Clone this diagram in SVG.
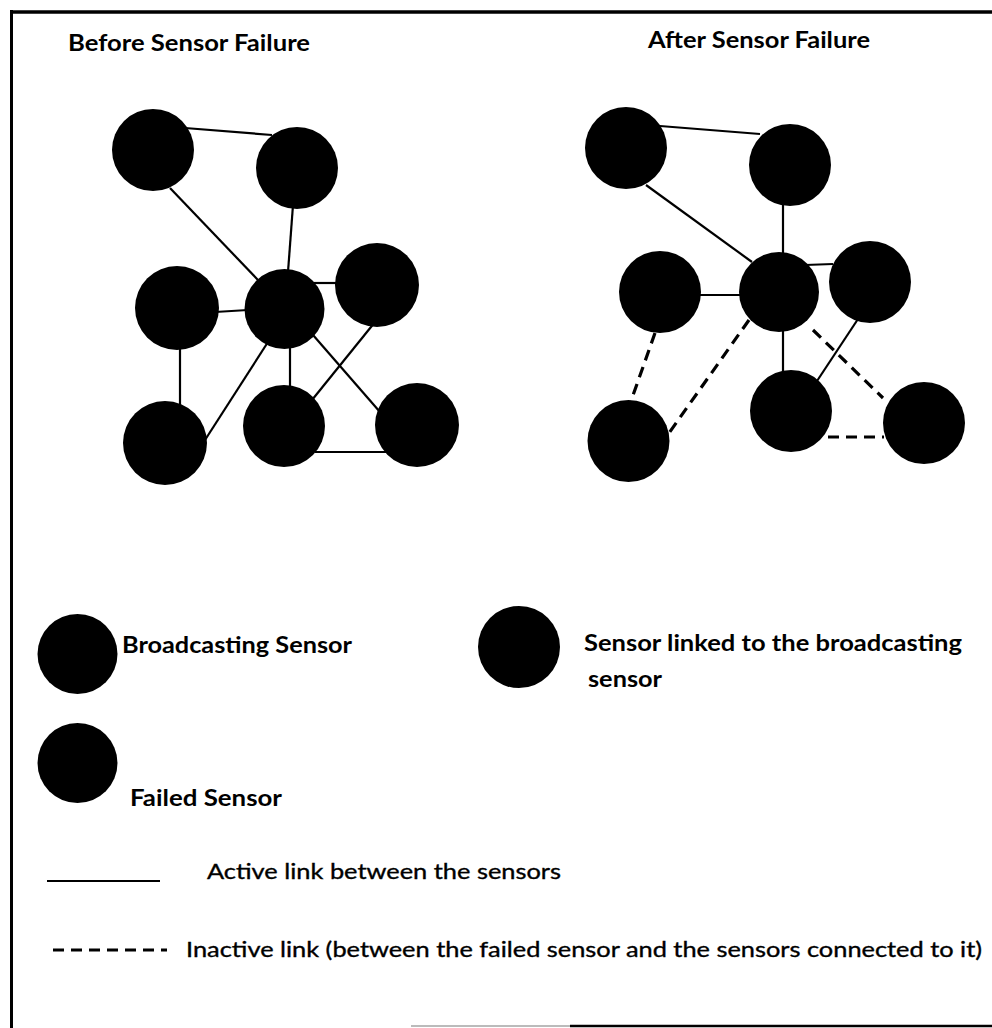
<svg xmlns="http://www.w3.org/2000/svg" width="992" height="1028" viewBox="0 0 992 1028">
  <style>
    .node { fill: #000; }
    .link { stroke: #000; stroke-width: 2.2; fill: none; stroke-linecap: butt; }
    .dash { stroke: #000; stroke-width: 3.2; fill: none; stroke-dasharray: 11 7; }
    .title { font-family: "Lato", "Liberation Sans", sans-serif; font-weight: bold; font-size: 22px; fill: #000; }
    .lbl { font-family: "Lato", "Liberation Sans", sans-serif; font-weight: bold; font-size: 22px; fill: #000; }
    .desc { font-family: "Lato", "Liberation Sans", sans-serif; font-weight: normal; font-size: 21px; fill: #000; stroke: #000; stroke-width: 0.35; }
    .frame { stroke: #000; fill: none; }
  </style>
  <rect x="0" y="0" width="992" height="1028" fill="#fff"/>

  <!-- frame -->
  <g id="frame">
    <line class="frame" x1="10" y1="12" x2="992" y2="12" stroke-width="3.5"/>
    <line class="frame" x1="11.5" y1="10" x2="11.5" y2="1028" stroke-width="3"/>
    <line x1="411" y1="1026" x2="570" y2="1026" stroke="#bbb" stroke-width="2"/>
    <line class="frame" x1="570" y1="1026" x2="992" y2="1026" stroke-width="2.5"/>
  </g>

  <!-- titles -->
  <text id="title-before" class="title" x="68" y="51" textLength="242" lengthAdjust="spacingAndGlyphs">Before Sensor Failure</text>
  <text id="title-after" class="title" x="648" y="48" textLength="222" lengthAdjust="spacingAndGlyphs">After Sensor Failure</text>

  <!-- connectors -->
  <g id="connectors">
    <!-- before -->
    <line class="link" x1="185" y1="128" x2="272" y2="135"/>
    <line class="link" x1="170" y1="188" x2="258" y2="280"/>
    <line class="link" x1="293" y1="205" x2="288" y2="272"/>
    <line class="link" x1="215" y1="312" x2="248" y2="310"/>
    <line class="link" x1="312" y1="283" x2="340" y2="283"/>
    <line class="link" x1="180" y1="345" x2="180" y2="405"/>
    <line class="link" x1="268" y1="342" x2="205" y2="440"/>
    <line class="link" x1="290" y1="345" x2="290" y2="390"/>
    <line class="link" x1="313" y1="335" x2="380" y2="412"/>
    <line class="link" x1="375" y1="322" x2="312" y2="400"/>
    <line class="link" x1="315" y1="452" x2="390" y2="452"/>
    <!-- after -->
    <line class="link" x1="660" y1="126" x2="760" y2="134"/>
    <line class="link" x1="646" y1="185" x2="752" y2="262"/>
    <line class="link" x1="783" y1="203" x2="783" y2="255"/>
    <line class="link" x1="698" y1="295" x2="742" y2="295"/>
    <line class="link" x1="805" y1="265" x2="833" y2="264"/>
    <line class="link" x1="783" y1="328" x2="783" y2="373"/>
    <line class="link" x1="858" y1="319" x2="817" y2="381"/>
    <line class="dash" x1="655" y1="333" x2="631" y2="401"/>
    <line class="dash" x1="749" y1="320" x2="669" y2="433"/>
    <line class="dash" x1="813" y1="330" x2="883" y2="398"/>
    <line class="dash" x1="828" y1="437" x2="884" y2="437"/>
  </g>

  <!-- before nodes -->
  <g id="b-n1"><circle class="node" cx="153" cy="150" r="41"/></g>
  <g id="b-n2"><circle class="node" cx="297" cy="168" r="41"/></g>
  <g id="b-n3"><circle class="node" cx="177" cy="308" r="42"/></g>
  <g id="b-n4"><circle class="node" cx="284.5" cy="309" r="40"/></g>
  <g id="b-n5"><circle class="node" cx="377" cy="285" r="42"/></g>
  <g id="b-n6"><circle class="node" cx="165" cy="443" r="42"/></g>
  <g id="b-n7"><circle class="node" cx="284" cy="426" r="41"/></g>
  <g id="b-n8"><circle class="node" cx="417" cy="425" r="42"/></g>

  <!-- after nodes -->
  <g id="a-n1"><circle class="node" cx="626" cy="148" r="41"/></g>
  <g id="a-n2"><circle class="node" cx="790" cy="165" r="41"/></g>
  <g id="a-n3"><circle class="node" cx="660" cy="292" r="41"/></g>
  <g id="a-n4"><circle class="node" cx="779" cy="292" r="40"/></g>
  <g id="a-n5"><circle class="node" cx="870" cy="282" r="41"/></g>
  <g id="a-n6"><circle class="node" cx="628.5" cy="441" r="41"/></g>
  <g id="a-n7"><circle class="node" cx="791" cy="411" r="41"/></g>
  <g id="a-n8"><circle class="node" cx="924" cy="423" r="41"/></g>

  <!-- legend -->
  <g id="legend-broadcasting">
    <circle class="node" cx="77.5" cy="654" r="40"/>
    <text class="lbl" x="122" y="653" textLength="230" lengthAdjust="spacingAndGlyphs">Broadcasting Sensor</text>
  </g>
  <g id="legend-linked">
    <circle class="node" cx="519" cy="647" r="41"/>
    <text class="lbl" x="584" y="651" textLength="378" lengthAdjust="spacingAndGlyphs">Sensor linked to the broadcasting</text>
    <text class="lbl" x="588" y="687" textLength="74" lengthAdjust="spacingAndGlyphs">sensor</text>
  </g>
  <g id="legend-failed">
    <circle class="node" cx="77.5" cy="763" r="40"/>
    <text class="lbl" x="130" y="806" textLength="152" lengthAdjust="spacingAndGlyphs">Failed Sensor</text>
  </g>
  <g id="legend-active">
    <line class="link" x1="47" y1="881" x2="160" y2="881" stroke-width="3"/>
    <text class="desc" x="207" y="879" textLength="354" lengthAdjust="spacingAndGlyphs">Active link between the sensors</text>
  </g>
  <g id="legend-inactive">
    <line class="dash" x1="53" y1="950" x2="167" y2="950" stroke-width="3" stroke-dasharray="10 7.5"/>
    <text class="desc" x="186" y="957" textLength="796" lengthAdjust="spacingAndGlyphs">Inactive link (between the failed sensor and the sensors connected to it)</text>
  </g>
</svg>
